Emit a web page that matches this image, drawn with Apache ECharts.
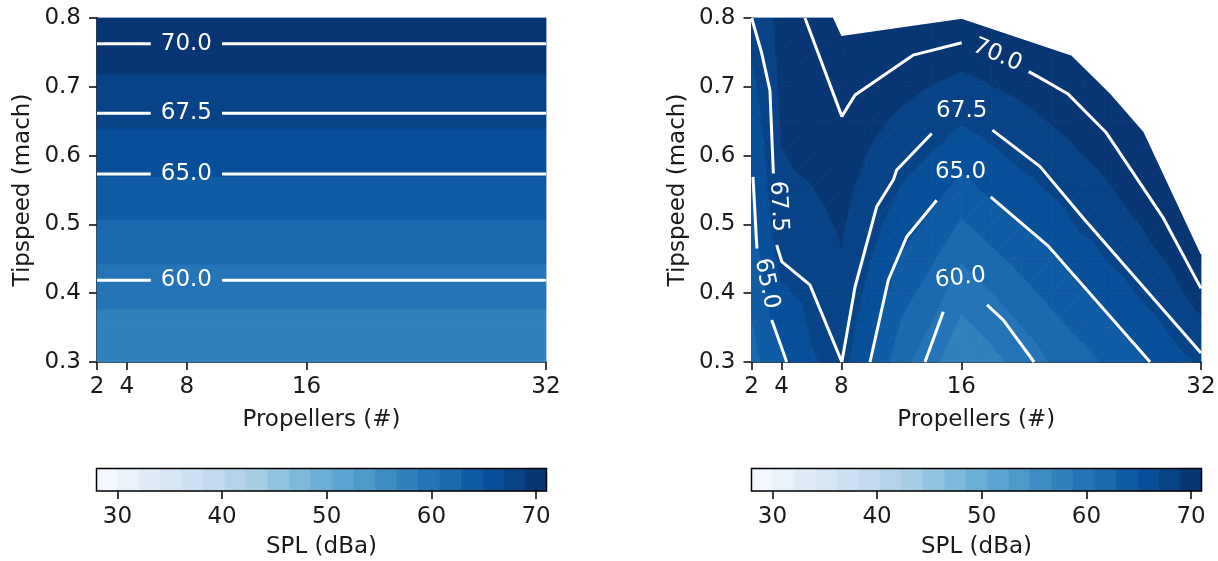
<!DOCTYPE html>
<html><head><meta charset="utf-8">
<script src="https://cdn.jsdelivr.net/npm/echarts@6/dist/echarts.min.js"></script>
<style>html,body{margin:0;padding:0;background:#fff}#chart{width:1218px;height:561px}</style>
</head><body><div id="chart"></div>
<script>
// ---------------- DATA ----------------
const propellerTicks = [2, 4, 8, 16, 32];
const tipspeedTicks = [0.3, 0.4, 0.5, 0.6, 0.7, 0.8];
const splTicks = [30, 40, 50, 60, 70];
const fillLevels = [28.00, 30.05, 32.10, 34.14, 36.19, 38.24, 40.29, 42.33, 44.38, 46.43, 48.48,
                    50.52, 52.57, 54.62, 56.67, 58.71, 60.76, 62.81, 64.86, 66.90, 68.95, 71.00];
const contourLevels = [60.0, 65.0, 67.5, 70.0];

// left panel: SPL depends on tipspeed only
const tipLeft = [0.30, 0.35, 0.40, 0.45, 0.50, 0.55, 0.60, 0.65, 0.70, 0.75, 0.80];
const splLeft = [57.0, 57.9, 59.4, 61.0, 62.6, 64.3, 65.8, 67.2, 68.5, 69.7, 70.9];

// right panel: SPL grid (rows = tipspeed, columns = propellers)
const propRight = [2, 4, 6, 8, 10, 12, 14, 16, 18, 20, 22, 24, 26, 28, 30, 32];
const tipRight = [0.30, 0.35, 0.40, 0.45, 0.50, 0.55, 0.60, 0.65, 0.70, 0.75, 0.80];
const splRight = [
  [62.0, 64.6, 66.7, 67.55, 64.9, 61.4, 59.4, 57.1, 58.1, 59.3, 60.9, 62.0, 63.3, 64.6, 66.1, 67.15],
  [62.6, 65.6, 67.1, 68.0, 65.55, 62.5, 60.6, 58.2, 59.3, 60.7, 62.1, 63.35, 64.6, 65.9, 67.2, 68.5],
  [63.1, 66.6, 67.45, 68.45, 66.2, 63.6, 61.9, 59.45, 60.7, 62.1, 63.4, 64.65, 65.9, 67.15, 68.25, 69.8],
  [63.7, 67.55, 68.0, 68.85, 66.9, 64.7, 63.1, 60.95, 62.25, 63.5, 64.65, 65.9, 67.15, 68.15, 69.25, 70.9],
  [64.2, 68.3, 68.5, 69.15, 67.55, 65.75, 64.4, 62.55, 63.8, 64.9, 65.9, 67.2, 68.1, 69.0, 70.25, 71.5],
  [64.8, 68.7, 68.9, 69.45, 68.15, 66.75, 65.6, 64.15, 65.3, 66.2, 67.1, 68.1, 68.85, 69.85, 71.0, 72.0],
  [65.3, 68.9, 69.2, 69.7, 68.75, 67.75, 66.8, 65.65, 66.5, 67.4, 68.15, 68.9, 69.6, 70.6, 71.5, 72.0],
  [65.9, 69.1, 69.45, 69.95, 69.35, 68.6, 67.9, 67.05, 67.75, 68.4, 69.05, 69.7, 70.4, 71.2, 71.8, 72.0],
  [66.4, 69.3, 69.65, 70.35, 69.95, 69.45, 68.9, 68.4, 68.9, 69.4, 69.95, 70.5, 71.1, 71.7, 72.0, 72.0],
  [67.0, 69.5, 69.85, 70.7, 70.5, 70.3, 69.95, 69.65, 70.0, 70.4, 70.8, 71.2, 71.6, 72.0, 72.0, 72.0],
  [67.5, 69.6, 70.3, 71.0, 71.0, 71.1, 71.0, 70.9, 71.1, 71.3, 71.5, 71.8, 72.0, 72.0, 72.0, 72.0]
];
// outline of the region where the right panel has data (top / right edge)
const hullRight = [[7.5, 0.8], [8.03, 0.775], [16.03, 0.8], [23.4, 0.746], [26.0, 0.69], [28.2, 0.635], [32.0, 0.458]];

// contour lines (pieces between labels)
const c70Right = [
  [[5.57, 0.8], [8.03, 0.657], [8.91, 0.688], [12.78, 0.746], [16.03, 0.764]],
  [[20.5, 0.722], [21.26, 0.713], [23.1, 0.690], [25.65, 0.634], [29.49, 0.509], [32.0, 0.407]]
];
const c675Right = [
  [[2.01, 0.8], [2.68, 0.749], [3.23, 0.695], [3.46, 0.574]],
  [[3.68, 0.470], [4.02, 0.446], [5.9, 0.412], [8.03, 0.3]],
  [[8.03, 0.3], [8.91, 0.409], [10.36, 0.526], [11.47, 0.565], [11.69, 0.579], [14.03, 0.632]],
  [[18.08, 0.637], [21.26, 0.584], [24.15, 0.509], [32.0, 0.313]]
];
const c65Right = [
  [[2.1, 0.569], [2.36, 0.465]],
  [[3.35, 0.361], [4.35, 0.3]],
  [[9.91, 0.3], [11.13, 0.419], [12.36, 0.482], [14.36, 0.535]],
  [[17.96, 0.540], [21.83, 0.468], [28.6, 0.3]]
];
const c60Right = [
  [[13.58, 0.3], [14.8, 0.373]],
  [[17.72, 0.383], [18.81, 0.361], [20.86, 0.3]]
];
const labelTextRight = ['70.0', '67.5', '65.0', '60.0', '67.5', '65.0'];
const labelPosRight = [[18.41, 0.746], [16.03, 0.665], [15.95, 0.576], [15.95, 0.422], [3.79, 0.526], [3.01, 0.414]];
const labelRotRight = [-23.5, 0, 0, 6, -87, -78.5];

// ---------------- HELPERS ----------------
const FONT = '"DejaVu Sans", "Noto Sans", sans-serif';
const FS = 23;
const TXT = '#1a1a1a';
const BLUES = [[0, [247, 251, 255]], [0.125, [222, 235, 247]], [0.25, [198, 219, 239]], [0.375, [158, 202, 225]],
  [0.5, [107, 174, 214]], [0.625, [66, 146, 198]], [0.75, [33, 113, 181]], [0.875, [8, 81, 156]], [1, [8, 48, 107]]];
function blues(t) {
  t = Math.max(0, Math.min(1, t));
  for (let i = 0; i < BLUES.length - 1; i++) {
    const a = BLUES[i], b = BLUES[i + 1];
    if (t <= b[0]) {
      const f = (t - a[0]) / (b[0] - a[0]);
      const c = a[1].map((v, k) => Math.round(v + f * (b[1][k] - v)));
      return 'rgb(' + c.join(',') + ')';
    }
  }
  return 'rgb(8,48,107)';
}
const vMin = fillLevels[0], vMax = fillLevels[fillLevels.length - 1];
const bandColors = fillLevels.slice(0, -1).map((l, k) => blues(((l + fillLevels[k + 1]) / 2 - vMin) / (vMax - vMin)));

function clipHalf(pts, level, keepAbove) {
  const res = [];
  const n = pts.length;
  for (let i = 0; i < n; i++) {
    const a = pts[i], b = pts[(i + 1) % n];
    const inA = keepAbove ? a[2] >= level : a[2] <= level;
    const inB = keepAbove ? b[2] >= level : b[2] <= level;
    if (inA) res.push(a);
    if (inA !== inB) {
      const t = (level - a[2]) / (b[2] - a[2]);
      res.push([a[0] + t * (b[0] - a[0]), a[1] + t * (b[1] - a[1]), level]);
    }
  }
  return res;
}
function bandPolys(poly, api, out) {
  const vs = poly.map(p => p[2]);
  const pmin = Math.min(...vs), pmax = Math.max(...vs);
  const nb = fillLevels.length - 1;
  for (let k = 0; k < nb; k++) {
    const lo = k === 0 ? -Infinity : fillLevels[k];
    const hi = k === nb - 1 ? Infinity : fillLevels[k + 1];
    if (pmax < lo || pmin > hi) continue;
    let p = poly;
    if (lo > -Infinity) p = clipHalf(p, lo, true);
    if (p.length >= 3 && hi < Infinity) p = clipHalf(p, hi, false);
    if (p.length < 3) continue;
    out.push({
      type: 'polygon',
      shape: { points: p.map(q => api.coord([q[0], q[1]])) },
      style: { fill: bandColors[k], stroke: bandColors[k], lineWidth: 0.8 }
    });
  }
}

// ---------------- SERIES ----------------
const series = [];
const LINE_W = 3;

// left fill
series.push({
  type: 'custom', xAxisIndex: 0, yAxisIndex: 0, silent: true, z: 1,
  data: tipLeft.slice(0, -1).map(y => [propellerTicks[0], y]),
  renderItem: (params, api) => {
    const j = params.dataIndex;
    const x0 = propellerTicks[0], x1 = propellerTicks[propellerTicks.length - 1];
    const quad = [[x0, tipLeft[j], splLeft[j]], [x1, tipLeft[j], splLeft[j]],
                  [x1, tipLeft[j + 1], splLeft[j + 1]], [x0, tipLeft[j + 1], splLeft[j + 1]]];
    const ch = [];
    bandPolys(quad, api, ch);
    return { type: 'group', children: ch };
  }
});

// left contour lines + labels
const leftLabelX = 7.97, leftGap = [5.59, 10.35];
const leftLabelPts = [];
contourLevels.forEach(level => {
  for (let j = 0; j < tipLeft.length - 1; j++) {
    const a = splLeft[j], b = splLeft[j + 1];
    if ((a - level) * (b - level) <= 0 && a !== b) {
      const y = tipLeft[j] + (level - a) / (b - a) * (tipLeft[j + 1] - tipLeft[j]);
      [[[propellerTicks[0], y], [leftGap[0], y]], [[leftGap[1], y], [propellerTicks[propellerTicks.length - 1], y]]]
        .forEach(seg => series.push({
          type: 'line', xAxisIndex: 0, yAxisIndex: 0, data: seg, symbol: 'none', silent: true, z: 4,
          lineStyle: { color: '#ffffff', width: LINE_W }
        }));
      leftLabelPts.push([leftLabelX, y, level]);
      break;
    }
  }
});
series.push({
  type: 'custom', xAxisIndex: 0, yAxisIndex: 0, silent: true, z: 5,
  data: leftLabelPts.map(p => [p[0], p[1]]),
  renderItem: (params, api) => {
    const p = api.coord([api.value(0), api.value(1)]);
    return { type: 'text', x: p[0], y: p[1],
      style: { text: leftLabelPts[params.dataIndex][2].toFixed(1), fill: '#fff', font: FS + 'px ' + FONT, align: 'center', verticalAlign: 'middle' } };
  }
});

// right fill
const rightCells = [];
for (let j = 0; j < tipRight.length - 1; j++)
  for (let i = 0; i < propRight.length - 1; i++) rightCells.push([propRight[i], tipRight[j], i, j]);
series.push({
  type: 'custom', xAxisIndex: 1, yAxisIndex: 1, silent: true, z: 1,
  data: rightCells.map(c => [c[0], c[1]]),
  renderItem: (params, api) => {
    const c = rightCells[params.dataIndex], i = c[2], j = c[3];
    const p00 = [propRight[i], tipRight[j], splRight[j][i]];
    const p10 = [propRight[i + 1], tipRight[j], splRight[j][i + 1]];
    const p11 = [propRight[i + 1], tipRight[j + 1], splRight[j + 1][i + 1]];
    const p01 = [propRight[i], tipRight[j + 1], splRight[j + 1][i]];
    const ch = [];
    bandPolys([p00, p10, p11], api, ch);
    bandPolys([p00, p11, p01], api, ch);
    return { type: 'group', children: ch };
  }
});
// right: blank area outside data region
series.push({
  type: 'custom', xAxisIndex: 1, yAxisIndex: 1, silent: true, z: 2,
  data: [[hullRight[0][0], hullRight[0][1]]],
  renderItem: (params, api) => {
    const pts = hullRight.concat([[propellerTicks[propellerTicks.length - 1], tipspeedTicks[tipspeedTicks.length - 1]]]);
    const px = pts.map(p => api.coord(p));
    const last = px[px.length - 1];
    px.splice(px.length - 1, 1, [last[0] + 3, px[px.length - 2][1]], [last[0] + 3, last[1] - 3], [px[0][0], last[1] - 3]);
    return { type: 'polygon', shape: { points: px }, style: { fill: '#ffffff', stroke: '#ffffff', lineWidth: 1.5 } };
  }
});
// right contour lines
[c70Right, c675Right, c65Right, c60Right].forEach(group => group.forEach(seg => series.push({
  type: 'line', xAxisIndex: 1, yAxisIndex: 1, data: seg, symbol: 'none', silent: true, z: 4,
  lineStyle: { color: '#ffffff', width: LINE_W }
})));
series.push({
  type: 'custom', xAxisIndex: 1, yAxisIndex: 1, silent: true, z: 5,
  data: labelPosRight,
  renderItem: (params, api) => {
    const p = api.coord([api.value(0), api.value(1)]);
    return { type: 'text', x: p[0], y: p[1], rotation: labelRotRight[params.dataIndex] * Math.PI / 180,
      style: { text: labelTextRight[params.dataIndex], fill: '#fff', font: FS + 'px ' + FONT, align: 'center', verticalAlign: 'middle' } };
  }
});

// colorbars
[2, 3].forEach(ai => {
  series.push({
    type: 'custom', xAxisIndex: ai, yAxisIndex: ai, silent: true, z: 1,
    data: fillLevels.slice(0, -1).map(l => [l, 0]),
    renderItem: (params, api) => {
      const k = params.dataIndex;
      const a = api.coord([fillLevels[k], 1]), b = api.coord([fillLevels[k + 1], 0]);
      return { type: 'rect', shape: { x: a[0], y: a[1], width: b[0] - a[0], height: b[1] - a[1] },
        style: { fill: bandColors[k], stroke: bandColors[k], lineWidth: 0.6 } };
    }
  });
  series.push({
    type: 'custom', xAxisIndex: ai, yAxisIndex: ai, silent: true, z: 3,
    data: [[vMin, 0]],
    renderItem: (params, api) => {
      const a = api.coord([vMin, 1]), b = api.coord([vMax, 0]);
      return { type: 'rect', shape: { x: a[0], y: a[1], width: b[0] - a[0], height: b[1] - a[1] },
        style: { fill: 'none', stroke: '#000', lineWidth: 1.5 } };
    }
  });
});

// ---------------- AXES ----------------
const lineBlack = { color: '#000', width: 1.5 };
function plotX(g) {
  return { gridIndex: g, type: 'value', min: 2, max: 32,
    name: 'Propellers (#)', nameLocation: 'middle', nameGap: 47,
    nameTextStyle: { fontFamily: FONT, fontSize: FS, color: TXT },
    axisLine: { show: true, onZero: false, lineStyle: lineBlack },
    axisTick: { show: true, length: 8, customValues: propellerTicks, lineStyle: lineBlack },
    axisLabel: { show: true, customValues: propellerTicks, fontFamily: FONT, fontSize: FS, color: TXT, margin: 14 },
    splitLine: { show: false } };
}
function plotY(g) {
  return { gridIndex: g, type: 'value', min: 0.3, max: 0.8,
    name: 'Tipspeed (mach)', nameLocation: 'middle', nameGap: 62, nameRotate: 90,
    nameTextStyle: { fontFamily: FONT, fontSize: FS, color: TXT },
    axisLine: { show: true, onZero: false, lineStyle: lineBlack },
    axisTick: { show: true, length: 8, customValues: tipspeedTicks, lineStyle: lineBlack },
    axisLabel: { show: true, customValues: tipspeedTicks, formatter: v => Number(v).toFixed(1), fontFamily: FONT, fontSize: FS, color: TXT, margin: 16 },
    splitLine: { show: false } };
}
function cbX(g) {
  return { gridIndex: g, type: 'value', min: vMin, max: vMax,
    name: 'SPL (dBa)', nameLocation: 'middle', nameGap: 45,
    nameTextStyle: { fontFamily: FONT, fontSize: FS, color: TXT },
    axisLine: { show: false },
    axisTick: { show: true, length: 8, customValues: splTicks, lineStyle: lineBlack },
    axisLabel: { show: true, customValues: splTicks, fontFamily: FONT, fontSize: FS, color: TXT, margin: 15 },
    splitLine: { show: false } };
}
function cbY(g) {
  return { gridIndex: g, type: 'value', min: 0, max: 1, show: false, splitLine: { show: false } };
}

const option = {
  backgroundColor: '#ffffff',
  animation: false,
  grid: [
    { left: 97, top: 18, width: 449, height: 344, outerBoundsMode: 'none' },
    { left: 751.5, top: 18, width: 449.5, height: 344, outerBoundsMode: 'none' },
    { left: 96.5, top: 468.5, width: 450, height: 22.5, outerBoundsMode: 'none' },
    { left: 751.5, top: 468.5, width: 450, height: 22.5, outerBoundsMode: 'none' }
  ],
  xAxis: [plotX(0), plotX(1), cbX(2), cbX(3)],
  yAxis: [plotY(0), plotY(1), cbY(2), cbY(3)],
  series: series
};
const chart = echarts.init(document.getElementById('chart'), null, { renderer: 'canvas' });
chart.setOption(option);
</script></body></html>
